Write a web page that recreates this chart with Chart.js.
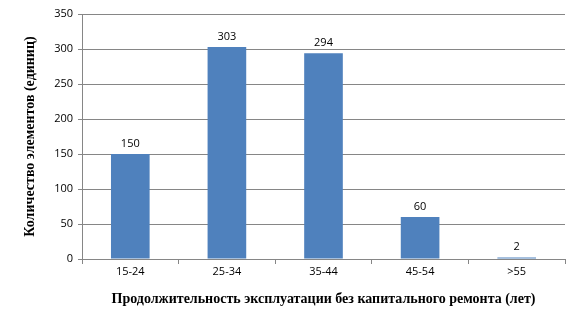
<!DOCTYPE html>
<html>
<head>
<meta charset="utf-8">
<script src="https://cdn.jsdelivr.net/npm/chart.js@4"></script>
<style>
  html, body { margin: 0; padding: 0; background: #fff; }
  #wrap { width: 576px; height: 326px; }
</style>
</head>
<body>
<div id="wrap"><canvas id="chart" width="576" height="326"></canvas></div>
<script>
// Данные диаграммы
const categories = ['15-24', '25-34', '35-44', '45-54', '>55'];
const counts = [150, 303, 294, 60, 2];
const yTicks = [0, 50, 100, 150, 200, 250, 300, 350];

const xTitle = 'Продолжительность эксплуатации без капитального ремонта (лет)';
const yTitle = 'Количество элементов (единиц)';

const gridColor = '#868686';
const barColor = '#4F81BD';

// Подписи значений над столбцами
const valueLabels = {
    id: 'valueLabels',
    afterDatasetsDraw(chart) {
        const ctx = chart.ctx;
        const meta = chart.getDatasetMeta(0);
        ctx.save();
        ctx.font = '11px "Open Sans"';
        ctx.fillStyle = '#000';
        ctx.textAlign = 'center';
        ctx.textBaseline = 'bottom';
        meta.data.forEach((bar, i) => {
            ctx.fillText(String(counts[i]), bar.x, bar.y - 5);
        });
        ctx.restore();
    }
};

const ctx = document.getElementById('chart').getContext('2d');
const chart = new Chart(ctx, {
    type: 'bar',
    data: {
        labels: categories,
        datasets: [{
            data: counts,
            backgroundColor: barColor,
            borderWidth: 0,
            categoryPercentage: 0.4,
            barPercentage: 1.0
        }]
    },
    options: {
        responsive: false,
        animation: false,
        devicePixelRatio: 1,
        layout: { padding: { top: 14, right: 11, left: 0, bottom: 18 } },
        plugins: {
            legend: { display: false },
            tooltip: { enabled: false }
        },
        scales: {
            x: {
                offset: true,
                grid: {
                    offset: true,
                    drawOnChartArea: false,
                    color: gridColor,
                    tickLength: 5
                },
                border: { color: gridColor },
                ticks: {
                    color: '#000',
                    font: { family: 'Open Sans', size: 11 },
                    padding: 1
                },
                title: {
                    display: true,
                    text: xTitle,
                    color: '#000',
                    font: { family: 'Liberation Serif', size: 14, weight: 'bold' },
                    padding: { top: 12, bottom: 0 }
                }
            },
            y: {
                min: 0,
                max: 350,
                afterBuildTicks(axis) {
                    axis.ticks = yTicks.map(v => ({ value: v }));
                },
                afterFit(axis) {
                    axis.width = 82;
                },
                grid: {
                    color: gridColor,
                    tickLength: 4
                },
                border: { color: gridColor },
                ticks: {
                    color: '#000',
                    font: { family: 'Open Sans', size: 11 },
                    padding: 5
                },
                title: {
                    display: true,
                    text: yTitle,
                    color: '#000',
                    font: { family: 'Liberation Serif', size: 14, weight: 'bold' },
                    padding: { top: 22, bottom: 4 }
                }
            }
        }
    },
    plugins: [valueLabels]
});
</script>
</body>
</html>
